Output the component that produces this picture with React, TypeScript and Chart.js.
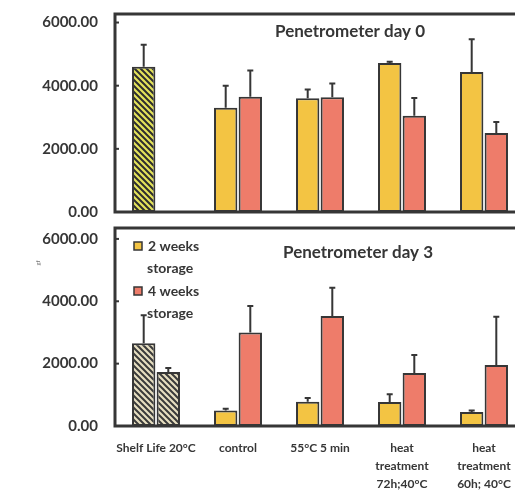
import React, { useEffect, useRef } from "react";
import { Chart, registerables } from "chart.js";
Chart.register(...registerables);

const categories: (string | string[])[] = [
  "Shelf Life 20°C",
  "control",
  "55°C 5 min",
  ["heat", "treatment", "72h;40°C"],
  ["heat", "treatment", "60h; 40°C"],
];
const seriesNames = ["2 weeks storage", "4 weeks storage"];
const yTicks = [0, 2000, 4000, 6000];

const day0Weeks2 = [4600, 3300, 3600, 4720, 4430];
const day0Weeks2Err = [700, 700, 280, 40, 1040];
const day0Weeks4: (number | null)[] = [null, 3650, 3630, 3050, 2500];
const day0Weeks4Err = [0, 830, 440, 560, 350];

const day3Weeks2 = [2650, 500, 780, 770, 450];
const day3Weeks2Err = [900, 50, 120, 250, 50];
const day3Weeks4 = [1730, 3000, 3530, 1700, 1960];
const day3Weeks4Err = [130, 850, 900, 580, 1540];

const YELLOW = "#F3C443";
const RED = "#EE7C6A";
const DARK = "#363636";
const FONT = "Lato, 'Open Sans', sans-serif";

function makeHatch(bg: string, fg: string): CanvasPattern | string {
  const c = document.createElement("canvas");
  const s = 6;
  c.width = s;
  c.height = s;
  const g = c.getContext("2d");
  if (!g) return bg;
  g.fillStyle = bg;
  g.fillRect(0, 0, s, s);
  g.strokeStyle = fg;
  g.lineWidth = 2;
  g.beginPath();
  g.moveTo(-1, -1);
  g.lineTo(s + 1, s + 1);
  g.moveTo(-1, s - 1);
  g.lineTo(1, s + 1);
  g.moveTo(s - 1, -1);
  g.lineTo(s + 1, 1);
  g.stroke();
  const p = g.createPattern(c, "repeat");
  return p || bg;
}

function makePlugins(
  errs: number[][],
  title: string,
  titleDx: number,
  titleDy: number,
  withLegend: boolean
) {
  return [
    {
      id: "frameAndErr",
      afterDatasetsDraw(chart: any) {
        const { ctx, chartArea } = chart;
        const ys = chart.scales.y;
        ctx.save();
        // error bars
        ctx.strokeStyle = DARK;
        ctx.lineWidth = 2;
        chart.data.datasets.forEach((ds: any, i: number) => {
          const meta = chart.getDatasetMeta(i);
          meta.data.forEach((el: any, j: number) => {
            const v = ds.data[j];
            const e = errs[i][j];
            if (v == null || !e) return;
            const yTop = ys.getPixelForValue(v + e);
            ctx.beginPath();
            ctx.moveTo(el.x, el.y);
            ctx.lineTo(el.x, yTop);
            ctx.moveTo(el.x - 3, yTop);
            ctx.lineTo(el.x + 3, yTop);
            ctx.stroke();
          });
        });
        // frame
        ctx.strokeStyle = DARK;
        ctx.lineWidth = 3;
        ctx.beginPath();
        ctx.moveTo(chartArea.left, chartArea.top);
        ctx.lineTo(chartArea.right + 5, chartArea.top);
        ctx.moveTo(chartArea.left, chartArea.top - 1.5);
        ctx.lineTo(chartArea.left, chartArea.bottom + 1.5);
        ctx.moveTo(chartArea.left - 1.5, chartArea.bottom);
        ctx.lineTo(chartArea.right + 5, chartArea.bottom);
        ctx.stroke();
        ctx.lineWidth = 2;
        yTicks.forEach((t) => {
          const py = ys.getPixelForValue(t);
          ctx.beginPath();
          ctx.moveTo(chartArea.left, py);
          ctx.lineTo(chartArea.left + 4, py);
          ctx.stroke();
        });
        // title
        ctx.fillStyle = DARK;
        ctx.font = `bold 17px ${FONT}`;
        ctx.textAlign = "center";
        ctx.textBaseline = "middle";
        ctx.fillText(title, chartArea.left + titleDx, chartArea.top + titleDy);
        // legend
        if (withLegend) {
          const colors = [YELLOW, RED];
          ctx.font = `bold 14px ${FONT}`;
          ctx.textAlign = "left";
          seriesNames.forEach((name, i) => {
            const words = name.split(" ");
            const l1 = words.slice(0, 2).join(" ");
            const l2 = words.slice(2).join(" ");
            const y1 = chartArea.top + 18 + i * 45;
            ctx.fillStyle = colors[i];
            ctx.fillRect(chartArea.left + 19, y1 - 4, 8, 8);
            ctx.strokeStyle = DARK;
            ctx.lineWidth = 1.5;
            ctx.strokeRect(chartArea.left + 19, y1 - 4, 8, 8);
            ctx.fillStyle = DARK;
            ctx.fillText(l1, chartArea.left + 33, y1);
            ctx.fillText(l2, chartArea.left + 32, y1 + 22);
          });
          ctx.save();
          ctx.translate(30, 41);
          ctx.rotate(-Math.PI / 2);
          ctx.font = `6px ${FONT}`;
          ctx.fillStyle = "#777";
          ctx.textAlign = "center";
          ctx.fillText("gf", 0, 0);
          ctx.restore();
        }
        ctx.restore();
      },
    },
  ];
}

function buildConfig(
  d2: (number | null)[],
  d4: (number | null)[],
  bg2: any[],
  bg4: any[],
  max: number,
  showX: boolean,
  padTop: number,
  padBottom: number,
  plugins: any[]
): any {
  return {
    type: "bar",
    data: {
      labels: categories,
      datasets: [
        {
          label: seriesNames[0],
          data: d2,
          backgroundColor: bg2,
          borderColor: DARK,
          borderWidth: 2,
          borderSkipped: false,
        },
        {
          label: seriesNames[1],
          data: d4,
          backgroundColor: bg4,
          borderColor: DARK,
          borderWidth: 2,
          borderSkipped: false,
        },
      ],
    },
    options: {
      animation: false,
      responsive: true,
      maintainAspectRatio: false,
      layout: { padding: { top: padTop, bottom: padBottom, right: 3, left: 0 } },
      datasets: { bar: { categoryPercentage: 0.6, barPercentage: 0.95 } },
      plugins: { legend: { display: false }, tooltip: { enabled: false }, title: { display: false } },
      scales: {
        x: {
          afterFit(scale: any) {
            if (showX) scale.height = 67;
          },
          grid: { display: false, drawTicks: false },
          border: { display: false },
          ticks: {
            display: showX,
            padding: 13,
            maxRotation: 0,
            autoSkip: false,
            color: DARK,
            font: { family: FONT, size: 12, weight: "bold", lineHeight: 1.5 },
          },
        },
        y: {
          min: 0,
          max: max,
          afterBuildTicks(scale: any) {
            scale.ticks = yTicks.map((v) => ({ value: v }));
          },
          afterFit(scale: any) {
            scale.width = 107;
          },
          grid: { display: false, drawTicks: true, tickLength: 17 },
          border: { display: false },
          ticks: {
            padding: 0,
            color: DARK,
            font: { family: FONT, size: 15, weight: "bold", lineHeight: 0.8 },
            callback: (v: any) => Number(v).toFixed(2),
          },
        },
      },
    },
    plugins,
  };
}

export default function App() {
  const topRef = useRef<HTMLCanvasElement>(null);
  const botRef = useRef<HTMLCanvasElement>(null);

  useEffect(() => {
    document.body.style.overflow = "hidden";
    const hatchTop = makeHatch("#E4E35A", "#2e2e2e");
    const hatchBot = makeHatch("#E6DEC0", "#3a3a3a");
    const c1 = new Chart(
      topRef.current as HTMLCanvasElement,
      buildConfig(
        day0Weeks2,
        day0Weeks4,
        [hatchTop, YELLOW, YELLOW, YELLOW, YELLOW],
        [RED, RED, RED, RED, RED],
        6270,
        false,
        6,
        10,
        makePlugins([day0Weeks2Err, day0Weeks4Err], "Penetrometer day 0", 235, 18, false)
      )
    );
    const c2 = new Chart(
      botRef.current as HTMLCanvasElement,
      buildConfig(
        day3Weeks2,
        day3Weeks4,
        [hatchBot, YELLOW, YELLOW, YELLOW, YELLOW],
        [hatchBot, RED, RED, RED, RED],
        6350,
        true,
        6,
        0,
        makePlugins([day3Weeks2Err, day3Weeks4Err], "Penetrometer day 3", 243, 25, true)
      )
    );
    return () => {
      c1.destroy();
      c2.destroy();
    };
  }, []);

  return (
    <div style={{ width: 515, height: 485, overflow: "hidden", background: "#fff" }}>
      <div style={{ position: "relative", width: 520, height: 214 }}>
        <canvas ref={topRef} />
      </div>
      <div style={{ position: "relative", width: 520, height: 271 }}>
        <canvas ref={botRef} />
      </div>
    </div>
  );
}
